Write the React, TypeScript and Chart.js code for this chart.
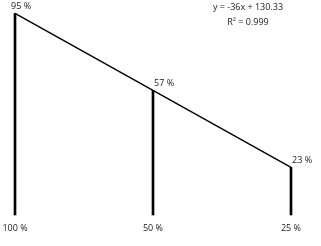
import React, { useEffect, useRef } from "react";
import { Chart, registerables } from "chart.js";

Chart.register(...registerables);

const categories = ["100 %", "50 %", "25 %"];
const values = [95, 57, 23];
const pointLabels = ["95 %", "57 %", "23 %"];
const trendSlope = -36;
const trendIntercept = 130.33;
const equationLines = ["y = -36x + 130.33", "R\u00B2 = 0.999"];

// trendline values at x = 1, 2, 3 (from the displayed equation)
const trendValues = categories.map((_, i) => trendSlope * (i + 1) + trendIntercept);

const FONT = "'Open Sans', sans-serif";
const TEXT = "#1c1c1c";

const labelPlugin = {
  id: "labels",
  afterDatasetsDraw(chart: any) {
    const ctx = chart.ctx;
    const meta = chart.getDatasetMeta(0);
    ctx.save();
    ctx.font = `9px ${FONT}`;
    ctx.fillStyle = TEXT;
    ctx.textAlign = "left";
    ctx.textBaseline = "alphabetic";
    meta.data.forEach((el: any, i: number) => {
      const dx = i === 0 ? -4 : 1;
      ctx.fillText(pointLabels[i], el.x + dx, el.y - 4);
    });
    const ca = chart.chartArea;
    ctx.textAlign = "center";
    ctx.fillText(equationLines[0], ca.right - 43, 10);
    ctx.fillText(equationLines[1], ca.right - 43, 25);
    ctx.restore();
  },
};

export default function App() {
  const ref = useRef<HTMLCanvasElement>(null);
  useEffect(() => {
    document.body.style.margin = "0";
    if (!ref.current) return;
    const chart = new Chart(ref.current, {
      type: "bar",
      data: {
        labels: categories,
        datasets: [
          {
            type: "bar",
            data: trendValues,
            backgroundColor: "#000",
            barThickness: 2,
            clip: false,
            order: 2,
          } as any,
          {
            type: "line",
            data: trendValues,
            borderColor: "#000",
            borderWidth: 1.4,
            pointRadius: 0,
            fill: false,
            tension: 0,
            clip: false,
            order: 1,
          } as any,
        ],
      },
      options: {
        responsive: false,
        animation: false,
        layout: { padding: { left: 15, right: 30, top: 12, bottom: 0 } },
        plugins: { legend: { display: false }, tooltip: { enabled: false } },
        scales: {
          x: {
            offset: false,
            grid: { display: false, drawTicks: false },
            border: { display: false },
            ticks: {
              color: TEXT,
              font: { family: FONT, size: 9 },
              padding: 8,
              maxRotation: 0,
              autoSkip: false,
            },
            afterFit(scale: any) {
              scale.height = 31;
              scale.paddingLeft = 0;
              scale.paddingRight = 0;
            },
          },
          y: { display: false, min: 0, max: 95 },
        },
      },
      plugins: [labelPlugin],
    });
    return () => chart.destroy();
  }, []);
  return (
    <div style={{ width: 321, height: 246 }}>
      <canvas ref={ref} width={321} height={246} style={{ display: "block" }} />
    </div>
  );
}
